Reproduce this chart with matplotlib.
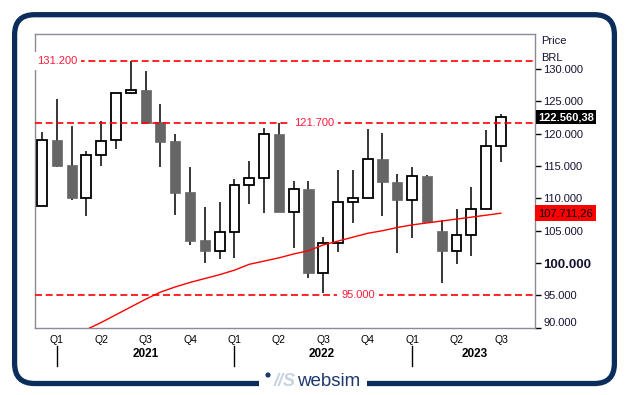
import numpy as np
import matplotlib
matplotlib.use("Agg")
import matplotlib.pyplot as plt
import matplotlib.transforms as mtransforms
from matplotlib.patches import FancyBboxPatch, Rectangle, Circle

plt.rcParams['font.family'] = ['Liberation Sans', 'DejaVu Sans']

# monthly candles, Dec 2020 .. Jul 2023 (values in thousands of BRL)
months = ['2020-12', '2021-01', '2021-02', '2021-03', '2021-04', '2021-05', '2021-06',
          '2021-07', '2021-08', '2021-09', '2021-10', '2021-11', '2021-12', '2022-01',
          '2022-02', '2022-03', '2022-04', '2022-05', '2022-06', '2022-07', '2022-08',
          '2022-09', '2022-10', '2022-11', '2022-12', '2023-01', '2023-02', '2023-03',
          '2023-04', '2023-05', '2023-06', '2023-07']
opens = [108.8, 119.1, 115.2, 110.1, 116.7, 119.0, 126.3, 126.8, 121.85, 118.9, 111.05,
         103.5, 101.9, 104.8, 112.1, 113.1, 120.0, 107.9, 111.4, 98.5, 103.1, 109.5,
         110.1, 116.1, 112.6, 109.7, 113.5, 105.0, 101.8, 104.4, 108.4, 118.1]
highs = [120.2, 125.4, 121.2, 117.4, 122.0, 126.3, 131.2, 129.7, 124.6, 120.0, 114.9,
         108.7, 109.5, 113.05, 115.8, 120.9, 121.7, 112.75, 112.75, 104.1, 114.4, 114.4,
         120.8, 120.15, 113.8, 114.9, 113.6, 106.7, 108.3, 111.8, 120.6, 123.1]
lows = [108.8, 114.8, 109.7, 107.3, 115.0, 117.6, 126.1, 121.7, 114.8, 107.4, 102.8,
        100.0, 100.6, 100.8, 109.1, 107.7, 107.85, 102.3, 97.7, 95.3, 101.7, 106.2,
        110.1, 107.2, 101.5, 103.8, 106.3, 96.9, 99.8, 101.1, 108.4, 115.7]
closes = [119.1, 115.0, 110.0, 116.7, 118.9, 126.3, 126.7, 121.7, 118.7, 110.9, 103.4,
          101.8, 104.8, 112.1, 113.2, 120.0, 107.85, 111.4, 98.5, 103.1, 109.5, 110.1,
          116.1, 112.5, 109.7, 113.4, 106.3, 101.8, 104.4, 108.4, 118.15, 122.56]

# moving average (starts at month index 3)
ma_idx = list(range(3, 32))
ma_vals = [89.7, 90.8, 92.0, 93.2, 94.4, 95.5, 96.3, 97.0, 97.6, 98.2, 98.9, 99.8, 100.3,
           100.8, 101.4, 101.9, 102.8, 103.4, 104.0, 104.6, 105.0, 105.5, 105.9, 106.2,
           106.5, 106.8, 107.1, 107.4, 107.71]

levels = [131.2, 121.7, 95.0]
level_label_x = [1.0, 18.4, 21.35]

quarter_idx = [1, 4, 7, 10, 13, 16, 19, 22, 25, 28, 31]
quarter_labels = ['Q1', 'Q2', 'Q3', 'Q4', 'Q1', 'Q2', 'Q3', 'Q4', 'Q1', 'Q2', 'Q3']
year_start_idx = [1, 13, 25]
year_labels = ['2021', '2022', '2023']
year_label_x = [7.0, 18.9, 29.2]

yticks = [90, 95, 100, 105, 110, 115, 120, 125, 130]
last_price = 122560.38
ma_last = 107711.26


def fmt_price(v, dec=False):
    if dec:
        s = f"{v:,.2f}"
        return s.replace(',', 'X').replace('.', ',').replace('X', '.')
    return f"{v * 1000:,.0f}".replace(',', '.')


fig = plt.figure(figsize=(6.29, 3.95), dpi=100)
ax = fig.add_axes([35 / 629, 1 - 328 / 395, 500 / 629, 294 / 395])

x = np.arange(len(months))
o = np.array(opens)
c = np.array(closes)
up = c >= o
bottoms = np.minimum(o, c)
heights = np.maximum(np.abs(c - o), 0.12)

ax.vlines(x, lows, highs, color='black', lw=1.1, zorder=2)
ax.bar(x[up], heights[up], bottom=bottoms[up], width=0.66, color='white',
       edgecolor='black', linewidth=1.3, zorder=3)
ax.bar(x[~up], heights[~up], bottom=bottoms[~up], width=0.68, color='#666666',
       edgecolor='#666666', linewidth=0.5, zorder=3)

ax.plot(ma_idx, ma_vals, color='red', lw=1.0, zorder=4)

for lv, lx in zip(levels, level_label_x):
    ax.axhline(lv, color='red', lw=1.2, ls=(0, (4.2, 2.2)), zorder=4)
    ax.text(lx, lv, fmt_price(lv), color='#ff1a3a', fontsize=8, ha='center', va='center',
            zorder=5, bbox=dict(boxstyle='square,pad=0.35', fc='white', ec='none'))

ax.set_xlim(-0.47, 33.3)
ax.set_ylim(89.95, 135.43)

for sp in ax.spines.values():
    sp.set_color('#8a8a9a')
    sp.set_linewidth(1.0)

ax.yaxis.tick_right()
ax.set_yticks(yticks, [fmt_price(v) for v in yticks])
ax.tick_params(axis='y', length=4, width=1, colors='black', labelcolor='#141432',
               labelsize=8, pad=2)
for lbl in ax.get_yticklabels():
    if lbl.get_text() == '100.000':
        lbl.set_fontweight('bold')
        lbl.set_fontsize(9.5)
    if lbl.get_text() == '90.000':
        lbl.set_verticalalignment('bottom')

ax.set_xticks(quarter_idx, quarter_labels)
ax.tick_params(axis='x', length=0, labelsize=7.5, pad=5)

xt = ax.get_xaxis_transform()
for xi in year_start_idx:
    ax.plot([xi, xi], [-0.061, -0.129], color='black', lw=1, transform=xt, clip_on=False)
for xi, yl in zip(year_label_x, year_labels):
    ax.text(xi, -0.088, yl, transform=xt, ha='center', va='center', fontsize=8.5,
            fontweight='bold')

yt = ax.get_yaxis_transform()
ax.text(1.006, last_price / 1000, fmt_price(last_price, dec=True), transform=yt,
        ha='left', va='center', color='white', fontsize=8, fontweight='bold',
        bbox=dict(boxstyle='square,pad=0.2', fc='black', ec='none'))
ax.text(1.006, ma_last / 1000, fmt_price(ma_last, dec=True), transform=yt,
        ha='left', va='center', color='black', fontsize=8,
        bbox=dict(boxstyle='square,pad=0.25', fc='red', ec='none'))

fig.text(541 / 629, 1 - 41 / 395, 'Price', fontsize=8, va='center', color='#141432')
fig.text(541 / 629, 1 - 58 / 395, 'BRL', fontsize=8, va='center', color='#141432')

# outer rounded frame and logo (pixel coordinates)
ident = mtransforms.IdentityTransform()
frame = FancyBboxPatch((14.6, 11.5), 599.8, 368.8,
                       boxstyle='round,pad=0,rounding_size=20',
                       fc='none', ec='#0b2d5b', lw=3.8, transform=ident)
fig.patches.append(frame)
fig.patches.append(Rectangle((259, 2), 108, 20, fc='white', ec='none', transform=ident))
fig.patches.append(Circle((268, 20), 2.6, fc='#1e3a6e', ec='none', transform=ident))
fig.text(285 / 629, 1 - 381 / 395, '//S', fontsize=13, fontweight='bold', style='italic',
         color='#c8d2e0', ha='center', va='center')
fig.text(329 / 629, 1 - 382 / 395, 'websim', fontsize=13.5, color='#1e3a6e',
         ha='center', va='center')

fig.savefig('out.png', dpi=100)
